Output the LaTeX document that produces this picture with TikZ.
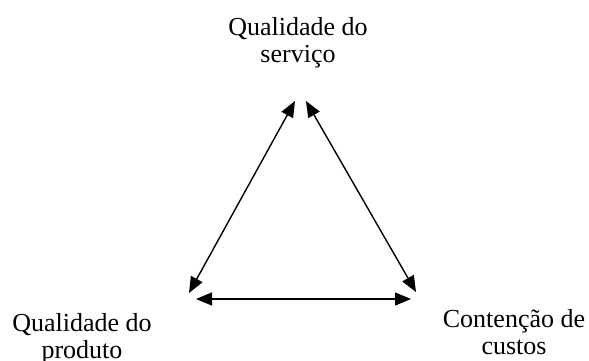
\documentclass[tikz,border=0pt]{standalone}
\usepackage{fontspec}
\setmainfont{Liberation Serif}
\usetikzlibrary{arrows.meta}
\begin{document}
\begin{tikzpicture}[x=1pt,y=-1pt,
  lbl/.style={align=center,inner sep=0pt,anchor=north,font=\fontsize{26}{27.5}\selectfont},
  tip/.style={Triangle[length=16pt,width=13pt]},
  link/.style={line width=1.4pt,{Triangle[length=16pt,width=13pt]}-{Triangle[length=16pt,width=13pt]}}]
\useasboundingbox (0,0) rectangle (589,361);
\node[lbl] (serv) at (298,17.2) {Qualidade do\\serviço};
\node[lbl] (prod) at (82,313.2) {Qualidade do\\produto};
\node[lbl] (cust) at (514,309.2) {Contenção de\\custos};
\coordinate (tl) at (295,101);
\coordinate (tr) at (306,101);
\coordinate (bl) at (189,293);
\coordinate (br) at (416,292);
\coordinate (hl) at (196,299);
\coordinate (hr) at (411,299);
\draw[link] (tl) -- (bl);
\draw[link] (tr) -- (br);
\draw[link] (hl) -- (hr);
\end{tikzpicture}
\end{document}
